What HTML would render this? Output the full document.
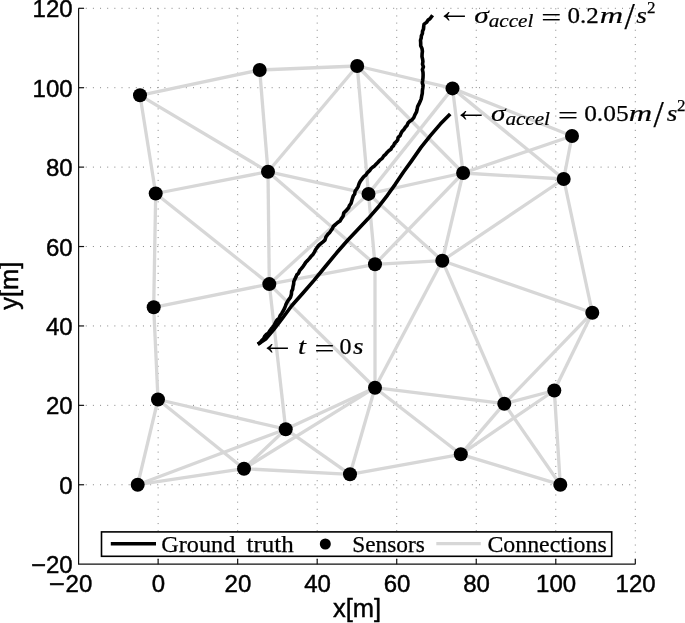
<!DOCTYPE html>
<html><head><meta charset="utf-8"><title>Sensor network tracking</title>
<style>
html,body{margin:0;padding:0;background:#fff;}
body{width:685px;height:623px;overflow:hidden;}
svg{display:block;}
.tk{font-family:"Liberation Sans",sans-serif;font-size:24px;fill:#000;stroke:#000;stroke-width:0.45px;}
.lb{font-family:"Liberation Sans",sans-serif;font-size:25.5px;fill:#000;stroke:#000;stroke-width:0.45px;}
.rm{font-family:"Liberation Serif",serif;fill:#000;stroke:#000;stroke-width:0.25px;}
.it{font-family:"Liberation Serif",serif;font-style:italic;fill:#000;stroke:#000;stroke-width:0.2px;}
.ar{font-family:"Liberation Serif",serif;fill:#000;}
</style></head><body>
<svg width="685" height="623" viewBox="0 0 685 623">
<rect width="685" height="623" fill="#fff"/>
<g stroke="#858585" stroke-width="1" stroke-dasharray="1 6.15" fill="none">
<line x1="158.13" y1="8.30" x2="158.13" y2="564.17"/>
<line x1="237.66" y1="8.30" x2="237.66" y2="564.17"/>
<line x1="317.19" y1="8.30" x2="317.19" y2="564.17"/>
<line x1="396.72" y1="8.30" x2="396.72" y2="564.17"/>
<line x1="476.25" y1="8.30" x2="476.25" y2="564.17"/>
<line x1="555.78" y1="8.30" x2="555.78" y2="564.17"/>
<line x1="635.31" y1="8.30" x2="635.31" y2="564.17"/>
<line x1="78.60" y1="8.30" x2="635.31" y2="8.30"/>
<line x1="78.60" y1="87.71" x2="635.31" y2="87.71"/>
<line x1="78.60" y1="167.12" x2="635.31" y2="167.12"/>
<line x1="78.60" y1="246.53" x2="635.31" y2="246.53"/>
<line x1="78.60" y1="325.94" x2="635.31" y2="325.94"/>
<line x1="78.60" y1="405.35" x2="635.31" y2="405.35"/>
<line x1="78.60" y1="484.76" x2="635.31" y2="484.76"/>
</g>
<g stroke="#d7d7d7" stroke-width="3.3" stroke-linecap="butt" fill="none">
<line x1="140" y1="95.3" x2="259.7" y2="70"/>
<line x1="140" y1="95.3" x2="268" y2="171.7"/>
<line x1="140" y1="95.3" x2="155.7" y2="193.5"/>
<line x1="259.7" y1="70" x2="268" y2="171.7"/>
<line x1="259.7" y1="70" x2="357.2" y2="66"/>
<line x1="268" y1="171.7" x2="155.7" y2="193.5"/>
<line x1="268" y1="171.7" x2="357.2" y2="66"/>
<line x1="268" y1="171.7" x2="368.5" y2="193.9"/>
<line x1="268" y1="171.7" x2="269.3" y2="284.1"/>
<line x1="268" y1="171.7" x2="375" y2="264.3"/>
<line x1="155.7" y1="193.5" x2="269.3" y2="284.1"/>
<line x1="155.7" y1="193.5" x2="153.7" y2="307.3"/>
<line x1="357.2" y1="66" x2="452.5" y2="88.4"/>
<line x1="357.2" y1="66" x2="368.5" y2="193.9"/>
<line x1="357.2" y1="66" x2="463.1" y2="173"/>
<line x1="452.5" y1="88.4" x2="463.1" y2="173"/>
<line x1="452.5" y1="88.4" x2="572" y2="136"/>
<line x1="452.5" y1="88.4" x2="563.7" y2="179"/>
<line x1="452.5" y1="88.4" x2="368.5" y2="193.9"/>
<line x1="463.1" y1="173" x2="368.5" y2="193.9"/>
<line x1="463.1" y1="173" x2="572" y2="136"/>
<line x1="463.1" y1="173" x2="563.7" y2="179"/>
<line x1="463.1" y1="173" x2="442.3" y2="260.7"/>
<line x1="463.1" y1="173" x2="375" y2="264.3"/>
<line x1="368.5" y1="193.9" x2="375" y2="264.3"/>
<line x1="368.5" y1="193.9" x2="442.3" y2="260.7"/>
<line x1="368.5" y1="193.9" x2="269.3" y2="284.1"/>
<line x1="572" y1="136" x2="563.7" y2="179"/>
<line x1="563.7" y1="179" x2="442.3" y2="260.7"/>
<line x1="563.7" y1="179" x2="592.3" y2="312.7"/>
<line x1="269.3" y1="284.1" x2="153.7" y2="307.3"/>
<line x1="269.3" y1="284.1" x2="375" y2="264.3"/>
<line x1="269.3" y1="284.1" x2="375" y2="387.7"/>
<line x1="269.3" y1="284.1" x2="285.7" y2="429.2"/>
<line x1="153.7" y1="307.3" x2="158" y2="399.5"/>
<line x1="158" y1="399.5" x2="137.7" y2="484.7"/>
<line x1="158" y1="399.5" x2="244" y2="468.7"/>
<line x1="158" y1="399.5" x2="285.7" y2="429.2"/>
<line x1="375" y1="264.3" x2="442.3" y2="260.7"/>
<line x1="375" y1="264.3" x2="375" y2="387.7"/>
<line x1="442.3" y1="260.7" x2="375" y2="387.7"/>
<line x1="442.3" y1="260.7" x2="592.3" y2="312.7"/>
<line x1="442.3" y1="260.7" x2="504.3" y2="403.7"/>
<line x1="375" y1="387.7" x2="504.3" y2="403.7"/>
<line x1="375" y1="387.7" x2="285.7" y2="429.2"/>
<line x1="375" y1="387.7" x2="244" y2="468.7"/>
<line x1="375" y1="387.7" x2="350" y2="474.3"/>
<line x1="375" y1="387.7" x2="460.8" y2="454.3"/>
<line x1="592.3" y1="312.7" x2="504.3" y2="403.7"/>
<line x1="592.3" y1="312.7" x2="554.3" y2="390.5"/>
<line x1="554.3" y1="390.5" x2="504.3" y2="403.7"/>
<line x1="554.3" y1="390.5" x2="560.3" y2="484.7"/>
<line x1="504.3" y1="403.7" x2="560.3" y2="484.7"/>
<line x1="504.3" y1="403.7" x2="460.8" y2="454.3"/>
<line x1="554.3" y1="390.5" x2="460.8" y2="454.3"/>
<line x1="460.8" y1="454.3" x2="560.3" y2="484.7"/>
<line x1="350" y1="474.3" x2="460.8" y2="454.3"/>
<line x1="285.7" y1="429.2" x2="350" y2="474.3"/>
<line x1="244" y1="468.7" x2="350" y2="474.3"/>
<line x1="244" y1="468.7" x2="285.7" y2="429.2"/>
<line x1="137.7" y1="484.7" x2="244" y2="468.7"/>
<line x1="137.7" y1="484.7" x2="285.7" y2="429.2"/>
</g>
<g stroke="#000" stroke-width="3.6" fill="none" stroke-linejoin="round">
<path d="M432.6,15.2 L431.3,17.0 L430.0,18.7 L428.1,20.0 L426.5,22.4 L424.1,24.1 L423.7,26.5 L423.5,29.0 L422.5,31.3 L422.4,33.6 L421.4,35.7 L421.2,38.0 L420.5,40.2 L420.7,42.9 L420.7,45.8 L422.0,48.5 L422.4,51.3 L422.1,54.0 L422.0,56.6 L422.6,59.1 L422.9,61.6 L422.5,64.2 L423.4,66.9 L422.4,69.6 L423.0,72.3 L423.1,74.9 L423.0,77.6 L422.7,80.3 L422.3,82.9 L423.1,85.4 L422.8,88.0 L422.4,90.6 L422.3,93.4 L421.7,96.0 L421.2,98.9 L420.1,101.6 L418.9,104.2 L417.6,106.7 L417.1,109.5 L416.4,112.2 L414.9,114.9 L413.8,117.7 L412.1,119.7 L409.8,121.2 L408.0,123.1 L407.0,125.5 L405.3,127.3 L403.9,129.4 L402.2,131.2 L401.0,133.3 L400.1,135.7 L398.2,137.4 L397.7,139.9 L396.2,141.8 L394.5,143.4 L393.6,145.6 L391.9,147.2 L390.9,149.3 L388.8,150.7 L387.1,152.4 L385.6,154.3 L383.8,155.9 L382.2,158.4 L379.9,160.1 L378.0,162.2 L376.0,164.2 L374.5,165.9 L372.6,167.2 L370.9,168.8 L369.6,170.7 L367.5,172.6 L365.9,175.0 L363.8,176.6 L362.3,178.6 L360.4,181.1 L359.0,183.9 L358.2,186.6 L356.7,189.0 L355.1,191.2 L354.7,193.9 L353.2,196.1 L352.4,198.6 L351.7,201.0 L351.0,203.5 L349.4,205.6 L348.6,207.8 L347.1,209.5 L345.6,211.2 L343.8,212.8 L343.2,215.9 L341.5,218.4 L340.1,221.0 L337.7,222.5 L335.5,224.5 L333.3,226.3 L332.4,228.7 L330.9,230.7 L329.5,232.7 L327.7,234.4 L325.9,237.0 L324.9,240.2 L323.0,241.9 L321.1,243.4 L319.2,245.0 L317.4,247.2 L315.7,249.5 L314.4,252.1 L313.0,254.4 L311.1,256.3 L309.5,258.4 L307.7,260.4 L305.8,262.2 L304.4,264.5 L303.0,266.6 L301.3,268.7 L299.6,270.7 L298.6,273.2 L296.8,274.9 L295.9,277.2 L294.8,279.3 L293.8,281.6 L293.6,284.2 L293.0,286.6 L292.7,289.1 L291.6,291.4 L291.4,294.3 L290.6,297.1 L288.8,299.6 L287.2,302.0 L286.1,304.1 L285.3,306.4 L284.4,308.6 L283.2,310.8 L281.9,313.2 L280.2,315.5 L279.2,318.1 L276.9,320.1 L275.6,322.4 L274.4,324.9 L272.7,327.1 L271.0,329.2 L269.6,331.1 L268.3,333.2 L266.2,334.6 L264.6,336.5 L263.6,338.7 L261.7,340.6 L260.0,342.8 L257.8,344.3"/>
<path d="M450.2,114.0 L440.3,124.1 L430.6,135.4 L421.0,147.4 L411.4,161.1 L403.5,172.0 L395.4,184.1 L387.4,195.3 L379.4,205.7 L368.2,218.6 L356.9,230.6 L347.9,240.0 L336.7,252.8 L325.4,266.5 L314.2,280.1 L303.0,293.0 L291.7,305.8 L282.1,318.7 L274.1,329.1 L266.1,338.7 L257.8,344.3"/>
</g>
<g fill="#000">
<circle cx="140" cy="95.3" r="7"/>
<circle cx="259.7" cy="70" r="7"/>
<circle cx="268" cy="171.7" r="7"/>
<circle cx="155.7" cy="193.5" r="7"/>
<circle cx="357.2" cy="66" r="7"/>
<circle cx="452.5" cy="88.4" r="7"/>
<circle cx="463.1" cy="173" r="7"/>
<circle cx="368.5" cy="193.9" r="7"/>
<circle cx="572" cy="136" r="7"/>
<circle cx="563.7" cy="179" r="7"/>
<circle cx="269.3" cy="284.1" r="7"/>
<circle cx="153.7" cy="307.3" r="7"/>
<circle cx="158" cy="399.5" r="7"/>
<circle cx="375" cy="264.3" r="7"/>
<circle cx="442.3" cy="260.7" r="7"/>
<circle cx="375" cy="387.7" r="7"/>
<circle cx="592.3" cy="312.7" r="7"/>
<circle cx="554.3" cy="390.5" r="7"/>
<circle cx="504.3" cy="403.7" r="7"/>
<circle cx="137.7" cy="484.7" r="7"/>
<circle cx="244" cy="468.7" r="7"/>
<circle cx="285.7" cy="429.2" r="7"/>
<circle cx="350" cy="474.3" r="7"/>
<circle cx="460.8" cy="454.3" r="7"/>
<circle cx="560.3" cy="484.7" r="7"/>
</g>
<g stroke="#111" stroke-width="1.2" fill="none"><path d="M78.6,8.3 V564.17 H635.3100000000001"/>
<line x1="158.13" y1="564.17" x2="158.13" y2="558.67"/>
<line x1="237.66" y1="564.17" x2="237.66" y2="558.67"/>
<line x1="317.19" y1="564.17" x2="317.19" y2="558.67"/>
<line x1="396.72" y1="564.17" x2="396.72" y2="558.67"/>
<line x1="476.25" y1="564.17" x2="476.25" y2="558.67"/>
<line x1="555.78" y1="564.17" x2="555.78" y2="558.67"/>
<line x1="635.31" y1="564.17" x2="635.31" y2="558.67"/>
<line x1="78.60" y1="8.30" x2="84.10" y2="8.30"/>
<line x1="78.60" y1="87.71" x2="84.10" y2="87.71"/>
<line x1="78.60" y1="167.12" x2="84.10" y2="167.12"/>
<line x1="78.60" y1="246.53" x2="84.10" y2="246.53"/>
<line x1="78.60" y1="325.94" x2="84.10" y2="325.94"/>
<line x1="78.60" y1="405.35" x2="84.10" y2="405.35"/>
<line x1="78.60" y1="484.76" x2="84.10" y2="484.76"/>
</g>
<text class="tk" x="78.90" y="591.8" text-anchor="middle">20</text>
<text class="tk" x="158.43" y="591.8" text-anchor="middle">0</text>
<text class="tk" x="237.96" y="591.8" text-anchor="middle">20</text>
<text class="tk" x="317.49" y="591.8" text-anchor="middle">40</text>
<text class="tk" x="397.02" y="591.8" text-anchor="middle">60</text>
<text class="tk" x="476.55" y="591.8" text-anchor="middle">80</text>
<text class="tk" x="556.08" y="591.8" text-anchor="middle">100</text>
<text class="tk" x="635.61" y="591.8" text-anchor="middle">120</text>
<text class="tk" x="48.8" y="591.8" textLength="16" lengthAdjust="spacingAndGlyphs">−</text>
<text class="tk" x="72.6" y="17.30" text-anchor="end">120</text>
<text class="tk" x="72.6" y="96.71" text-anchor="end">100</text>
<text class="tk" x="72.6" y="176.12" text-anchor="end">80</text>
<text class="tk" x="72.6" y="255.53" text-anchor="end">60</text>
<text class="tk" x="72.6" y="334.94" text-anchor="end">40</text>
<text class="tk" x="72.6" y="414.35" text-anchor="end">20</text>
<text class="tk" x="72.6" y="493.76" text-anchor="end">0</text>
<text class="tk" x="72.6" y="573.17" text-anchor="end">20</text>
<text class="tk" x="30.9" y="573.17" textLength="15" lengthAdjust="spacingAndGlyphs">−</text>
<text class="lb" x="357" y="617.2" text-anchor="middle">x[m]</text>
<text class="lb" transform="translate(18,285.7) rotate(-90)" text-anchor="middle">y[m]</text>
<rect x="101.5" y="531.9" width="510.2" height="24.4" fill="#fff" stroke="#000" stroke-width="1.6"/>
<line x1="110.8" y1="543.7" x2="156" y2="543.7" stroke="#000" stroke-width="3.6"/>
<text class="rm" font-size="23.5" x="161.3" y="552.4" textLength="74" lengthAdjust="spacingAndGlyphs">Ground</text>
<text class="rm" font-size="23.5" x="246.6" y="552.4" textLength="47.2" lengthAdjust="spacingAndGlyphs">truth</text>
<circle cx="325.3" cy="544" r="5.5" fill="#000"/>
<text class="rm" font-size="23.5" x="352.3" y="552.4" textLength="72.5" lengthAdjust="spacingAndGlyphs">Sensors</text>
<line x1="436.3" y1="543.7" x2="480.8" y2="543.7" stroke="#d7d7d7" stroke-width="3.3"/>
<text class="rm" font-size="23.5" x="487.4" y="552.4" textLength="119.3" lengthAdjust="spacingAndGlyphs">Connections</text>
<text class="ar" font-size="36" x="436.5" y="22.2">←</text>
<text class="it" font-size="22.5" x="474.3" y="22.6" textLength="14.5" lengthAdjust="spacingAndGlyphs">σ</text>
<text class="it" font-size="18" x="488.7" y="26.7" textLength="44.6" lengthAdjust="spacingAndGlyphs">accel</text>
<text class="rm" font-size="24" x="541.3" y="24.6" textLength="20" lengthAdjust="spacingAndGlyphs">=</text>
<text class="rm" font-size="23.2" x="567.5" y="22.8" textLength="31.3" lengthAdjust="spacingAndGlyphs">0.2</text>
<text class="it" font-size="24" x="599.7" y="22.6" textLength="23.4" lengthAdjust="spacingAndGlyphs">m</text>
<text class="rm" font-size="37" x="624.4" y="28.8">/</text>
<text class="it" font-size="24" x="636.3" y="22.6" textLength="10.6" lengthAdjust="spacingAndGlyphs">s</text>
<text class="rm" font-size="17" x="647.0" y="12.8">2</text>
<text class="ar" font-size="36" x="453.2" y="120.6">←</text>
<text class="it" font-size="22.5" x="491.0" y="121.0" textLength="14.5" lengthAdjust="spacingAndGlyphs">σ</text>
<text class="it" font-size="18" x="505.4" y="125.1" textLength="44.6" lengthAdjust="spacingAndGlyphs">accel</text>
<text class="rm" font-size="24" x="558.0" y="123.0" textLength="20" lengthAdjust="spacingAndGlyphs">=</text>
<text class="rm" font-size="23.2" x="584.2" y="121.2" textLength="44.4" lengthAdjust="spacingAndGlyphs">0.05</text>
<text class="it" font-size="24" x="628.7" y="121.0" textLength="23.4" lengthAdjust="spacingAndGlyphs">m</text>
<text class="rm" font-size="37" x="653.4" y="127.2">/</text>
<text class="it" font-size="24" x="666.8" y="121.0" textLength="10.6" lengthAdjust="spacingAndGlyphs">s</text>
<text class="rm" font-size="17" x="676.9" y="111.2">2</text>
<text class="ar" font-size="36" x="259.5" y="353.6">←</text>
<text class="it" font-size="24" x="298" y="354" textLength="8" lengthAdjust="spacingAndGlyphs">t</text>
<text class="rm" font-size="24" x="314.6" y="356" textLength="20" lengthAdjust="spacingAndGlyphs">=</text>
<text class="rm" font-size="23.2" x="339.6" y="354.2" textLength="12" lengthAdjust="spacingAndGlyphs">0</text>
<text class="it" font-size="24" x="353" y="354" textLength="10.5" lengthAdjust="spacingAndGlyphs">s</text>
</svg></body></html>
